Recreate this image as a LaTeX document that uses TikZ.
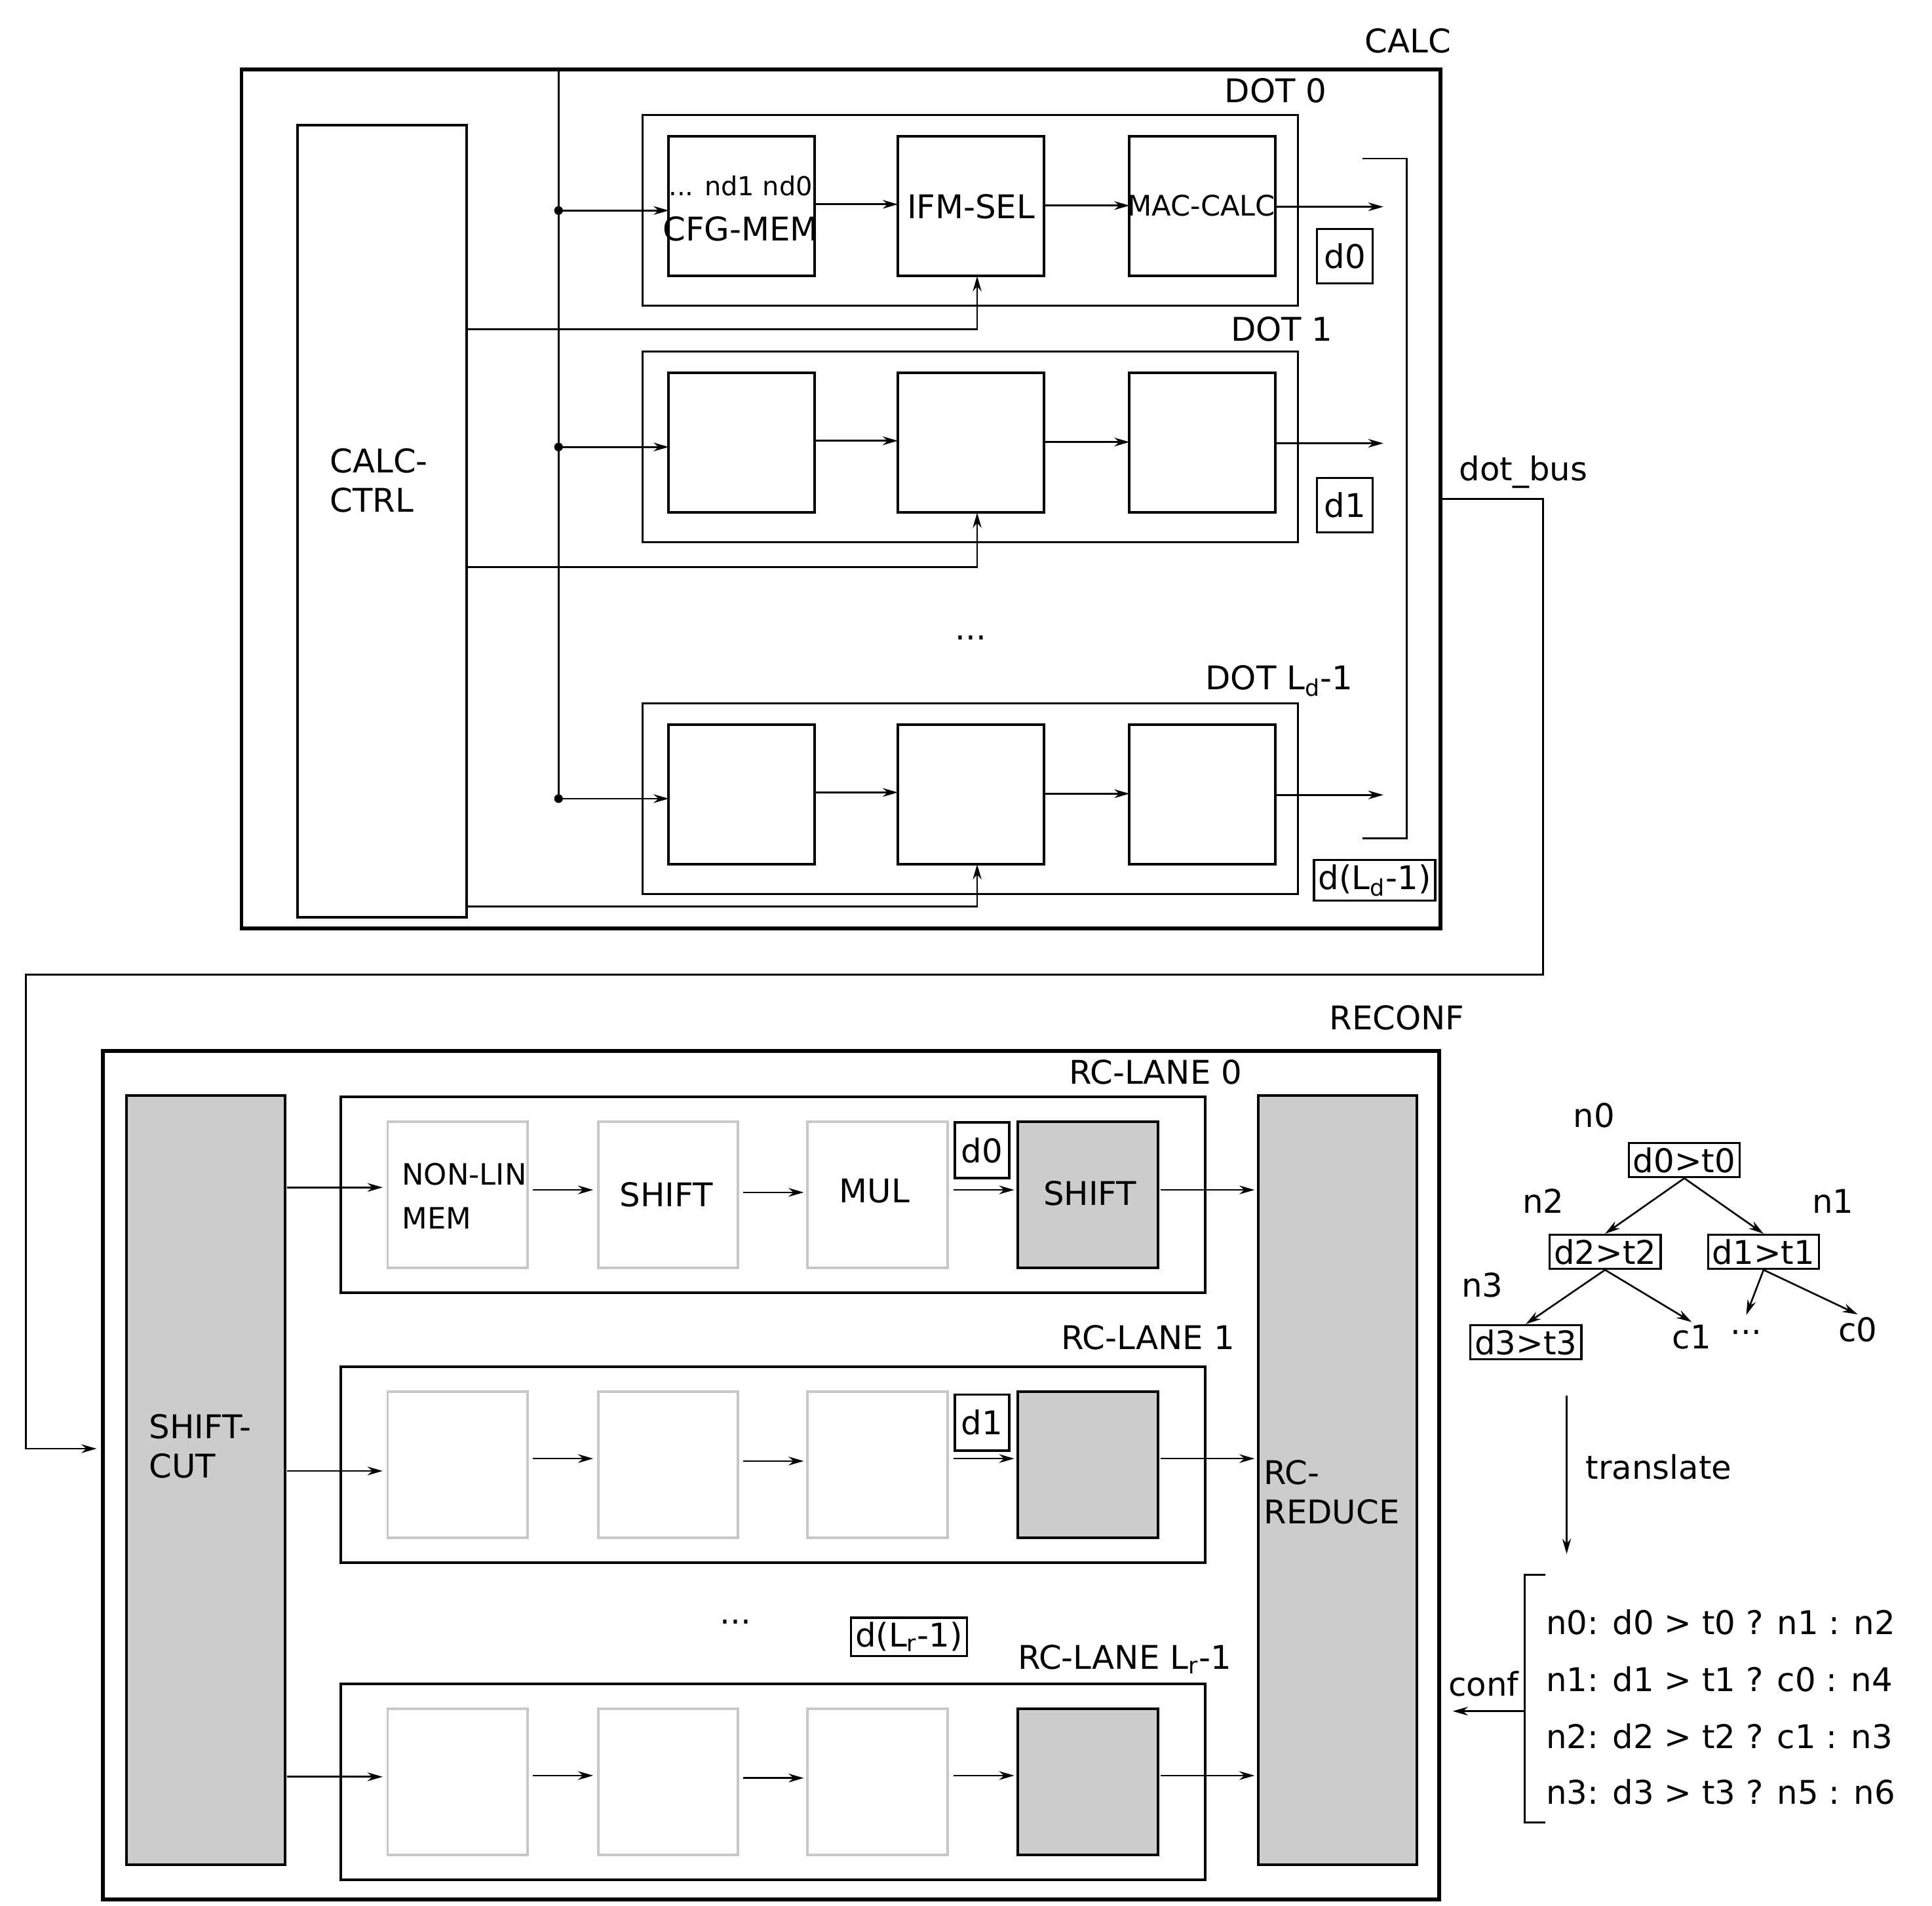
\documentclass[tikz,border=0pt]{standalone}
\usepackage{fontspec}
\setmainfont{DejaVu Sans}
\usetikzlibrary{arrows.meta}
\begin{document}
\begin{tikzpicture}[x=0.02cm,y=-0.02cm,
 line width=0.8pt,
 arr/.style={-{Stealth[length=7pt,width=4pt]},line width=0.8pt},
 outer/.style={draw,line width=1.8pt},
 blk/.style={draw,line width=1.2pt},
 lgt/.style={draw=black!22,line width=1.2pt},
 gry/.style={draw,fill=black!20,line width=1.2pt},
 lbl/.style={font=\fontsize{15}{18}\selectfont,inner sep=1pt},
 sml/.style={font=\fontsize{12}{14}\selectfont,inner sep=1pt},
 tb/.style={draw,line width=1pt,font=\fontsize{15}{18}\selectfont,inner sep=2pt}]
\useasboundingbox (0,0) rectangle (1560,1539);
% CALC
\draw[outer] (195,56) rectangle (1163,750);
\node[lbl] (calc) at (1137,33) {CALC};
\draw[blk] (240,101) rectangle (377,741);
\node[lbl,align=left,anchor=west] (cc) at (264,388) {CALC-\\CTRL};
\draw (451,56) -- (451,645);
\foreach \y in {170,361,645} \fill (451,\y) circle (3.5);
% DOT boxes
\foreach \t/\lab/\lx/\ly/\ctrl/\dy in {93/DOT 0/1030/73/266/170, 284/DOT 1/1035/266/458/361, 568/{DOT L\textsubscript{d}-1}/1033/550/732/645}{
 \draw[line width=1pt] (519,\t) rectangle (1048,\t+154);
 \node[lbl] at (\lx,\ly) {\lab};
 \draw[blk] (540,\t+17) rectangle (658,\t+130);
 \draw[blk] (725,\t+17) rectangle (843,\t+130);
 \draw[blk] (912,\t+17) rectangle (1030,\t+130);
 \draw[arr] (451,\dy) -- (540,\dy);
 \draw[arr] (658,\t+72) -- (725,\t+72);
 \draw[arr] (843,\t+73) -- (912,\t+73);
 \draw[arr] (1030,\t+74) -- (1117,\t+74);
 \draw[arr] (377,\ctrl) -- (789,\ctrl) -- (789,\t+130);
}
\node[sml] at (598,150) {... nd1 nd0};
\node[lbl] at (598,185) {CFG-MEM};
\node[lbl] at (784,167) {IFM-SEL};
\node[font=\fontsize{13}{15}\selectfont,inner sep=0pt] at (970,166) {MAC-CALC};
\node[tb,minimum width=0.9cm,minimum height=0.88cm] (d0) at (1086,207) {d0};
\node[tb,minimum width=0.9cm,minimum height=0.88cm] (d1) at (1086,408) {d1};
\node[tb] (dL) at (1110,711) {d(L\textsubscript{d}-1)};
\node[lbl] at (784,515) {...};
\draw (1100,128) -- (1136,128) -- (1136,677) -- (1100,677);
\node[lbl] at (1230,381) {dot\_bus};
\draw[arr] (1163,403) -- (1246,403) -- (1246,787) -- (21,787) -- (21,1170) -- (78,1170);
% RECONF
\draw[outer] (83,849) rectangle (1162,1534);
\node[lbl] at (1128,822) {RECONF};
\draw[gry] (102,885) rectangle (230,1506);
\node[lbl,align=left,anchor=west] at (118,1168) {SHIFT-\\CUT};
\draw[gry] (1016,885) rectangle (1144,1506);
\node[lbl,align=left,anchor=west] at (1018,1205) {RC-\\REDUCE};
\foreach \t/\lab/\lx/\ly/\ya/\yb in {886/RC-LANE 0/933/866/959/961, 1104/RC-LANE 1/927/1080/1188/1178, 1360/{RC-LANE L\textsubscript{r}-1}/908/1340/1435/1434}{
 \draw[line width=1.2pt] (275,\t) rectangle (973,\t+158);
 \node[lbl] at (\lx,\ly) {\lab};
 \draw[lgt] (313,\t+20) rectangle (426,\t+138);
 \draw[lgt] (483,\t+20) rectangle (596,\t+138);
 \draw[lgt] (652,\t+20) rectangle (765,\t+138);
 \draw[gry] (822,\t+20) rectangle (935,\t+138);
 \draw[arr] (232,\ya) -- (309,\ya);
 \draw[arr] (430,\yb) -- (479,\yb);
 \draw[arr] (600,\yb+2) -- (649,\yb+2);
 \draw[arr] (770,\yb) -- (819,\yb);
 \draw[arr] (937,\yb) -- (1013,\yb);
}
\node[font=\fontsize{13.5}{16}\selectfont,align=left,anchor=west] at (318,966) {NON-LIN\\[4pt]MEM};
\node[lbl] at (538,965) {SHIFT};
\node[lbl] at (706,962) {MUL};
\node[lbl] at (880,964) {SHIFT};
\node[tb,minimum width=0.88cm,minimum height=0.9cm] at (793,929) {d0};
\node[tb,minimum width=0.88cm,minimum height=0.9cm] at (793,1149) {d1};
\node[lbl] at (594,1310) {...};
\node[tb] at (734,1322) {d(L\textsubscript{r}-1)};
% tree
\node[tb] (n0) at (1360,937) {d0>t0};
\node[lbl] at (1287,901) {n0};
\node[tb] (n2) at (1296,1011) {d2>t2};
\node[lbl] at (1246,970) {n2};
\node[tb] (n1) at (1424,1011) {d1>t1};
\node[lbl] at (1480,970) {n1};
\node[tb] (n3) at (1232,1084) {d3>t3};
\node[lbl] at (1197,1038) {n3};
\node[lbl] (c1) at (1366,1080) {c1};
\node[lbl] (dd) at (1410,1076) {...};
\node[lbl] (c0) at (1500,1074) {c0};
\draw[arr] (n0.south) -- (n2.north);
\draw[arr] (n0.south) -- (n1.north);
\draw[arr] (n2.south) -- (n3.north);
\draw[arr] (n2.south) -- (c1.north);
\draw[arr] (n1.south) -- (1410,1062);
\draw[arr] (n1.south) -- (c0.north);
\draw[arr] (1265,1127) -- (1265,1255);
\node[lbl,anchor=west] at (1278,1185) {translate};
\draw (1248,1272) -- (1231,1272) -- (1231,1472) -- (1248,1472);
\draw[arr] (1231,1382) -- (1173,1382);
\node[lbl] at (1198,1360) {conf};
\foreach \y/\s in {1310/{n0: d0 > t0 ? n1 : n2},1356/{n1: d1 > t1 ? c0 : n4},1402/{n2: d2 > t2 ? c1 : n3},1447/{n3: d3 > t3 ? n5 : n6}}
 \node[lbl,anchor=west] at (1246,\y) {\s};
\end{tikzpicture}
\end{document}
